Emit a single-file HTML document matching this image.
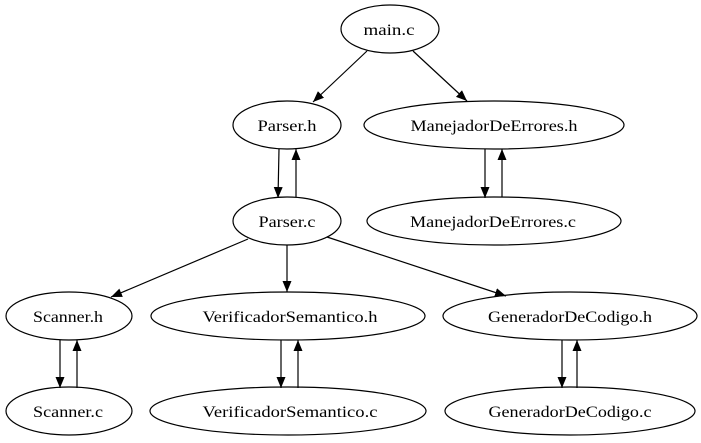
<!DOCTYPE html>
<html><head><meta charset="utf-8"><style>body{margin:0;background:#fff}svg{display:block}</style></head>
<body>
<svg width="701" height="443" viewBox="0 0 701 443" xmlns="http://www.w3.org/2000/svg">
<defs><marker id="a" markerWidth="11" markerHeight="9" refX="11" refY="4.5" orient="auto" markerUnits="userSpaceOnUse"><path d="M0,0 L11,4.5 L0,9 Z" fill="#000"/></marker></defs>
<g fill="none" stroke="#000" stroke-width="1.2">
<ellipse cx="390" cy="29" rx="49" ry="24"/>
<ellipse cx="287" cy="125" rx="54" ry="24"/>
<ellipse cx="494" cy="125" rx="130" ry="24"/>
<ellipse cx="287" cy="221" rx="54" ry="24"/>
<ellipse cx="494" cy="221" rx="127" ry="24"/>
<ellipse cx="69" cy="316" rx="63" ry="24"/>
<ellipse cx="288" cy="316" rx="137" ry="24"/>
<ellipse cx="570" cy="316" rx="127" ry="24"/>
<ellipse cx="69" cy="411" rx="63" ry="24"/>
<ellipse cx="288" cy="411" rx="138" ry="24"/>
<ellipse cx="570" cy="411" rx="125" ry="24"/>
</g>
<g stroke="#000" stroke-width="1.2" marker-end="url(#a)">
<line x1="367" y1="51" x2="313" y2="102"/>
<line x1="413" y1="51" x2="467" y2="101"/>
<line x1="279" y1="149" x2="278" y2="198"/>
<line x1="296" y1="197" x2="296" y2="149"/>
<line x1="485" y1="149" x2="485" y2="198"/>
<line x1="502" y1="197" x2="502" y2="149"/>
<line x1="248" y1="239" x2="111" y2="297"/>
<line x1="287" y1="245" x2="287" y2="292"/>
<line x1="327" y1="237" x2="506" y2="296"/>
<line x1="60" y1="340" x2="60" y2="388"/>
<line x1="77" y1="388" x2="77" y2="340"/>
<line x1="281" y1="340" x2="281" y2="388"/>
<line x1="298" y1="388" x2="298" y2="340"/>
<line x1="562" y1="340" x2="562" y2="388"/>
<line x1="577" y1="388" x2="577" y2="340"/>
</g>
<g font-family="'Liberation Serif',serif" font-size="16" text-anchor="middle" fill="#000">
<text x="389" y="35" textLength="51" lengthAdjust="spacingAndGlyphs">main.c</text>
<text x="287" y="131" textLength="59" lengthAdjust="spacingAndGlyphs">Parser.h</text>
<text x="494" y="131" textLength="167" lengthAdjust="spacingAndGlyphs">ManejadorDeErrores.h</text>
<text x="287" y="227" textLength="57" lengthAdjust="spacingAndGlyphs">Parser.c</text>
<text x="493" y="227" textLength="166" lengthAdjust="spacingAndGlyphs">ManejadorDeErrores.c</text>
<text x="68" y="322" textLength="70" lengthAdjust="spacingAndGlyphs">Scanner.h</text>
<text x="290" y="322" textLength="175" lengthAdjust="spacingAndGlyphs">VerificadorSemantico.h</text>
<text x="570" y="322" textLength="164" lengthAdjust="spacingAndGlyphs">GeneradorDeCodigo.h</text>
<text x="68" y="417" textLength="70" lengthAdjust="spacingAndGlyphs">Scanner.c</text>
<text x="290" y="417" textLength="175" lengthAdjust="spacingAndGlyphs">VerificadorSemantico.c</text>
<text x="570" y="417" textLength="163" lengthAdjust="spacingAndGlyphs">GeneradorDeCodigo.c</text>
</g>
</svg>
</body></html>
